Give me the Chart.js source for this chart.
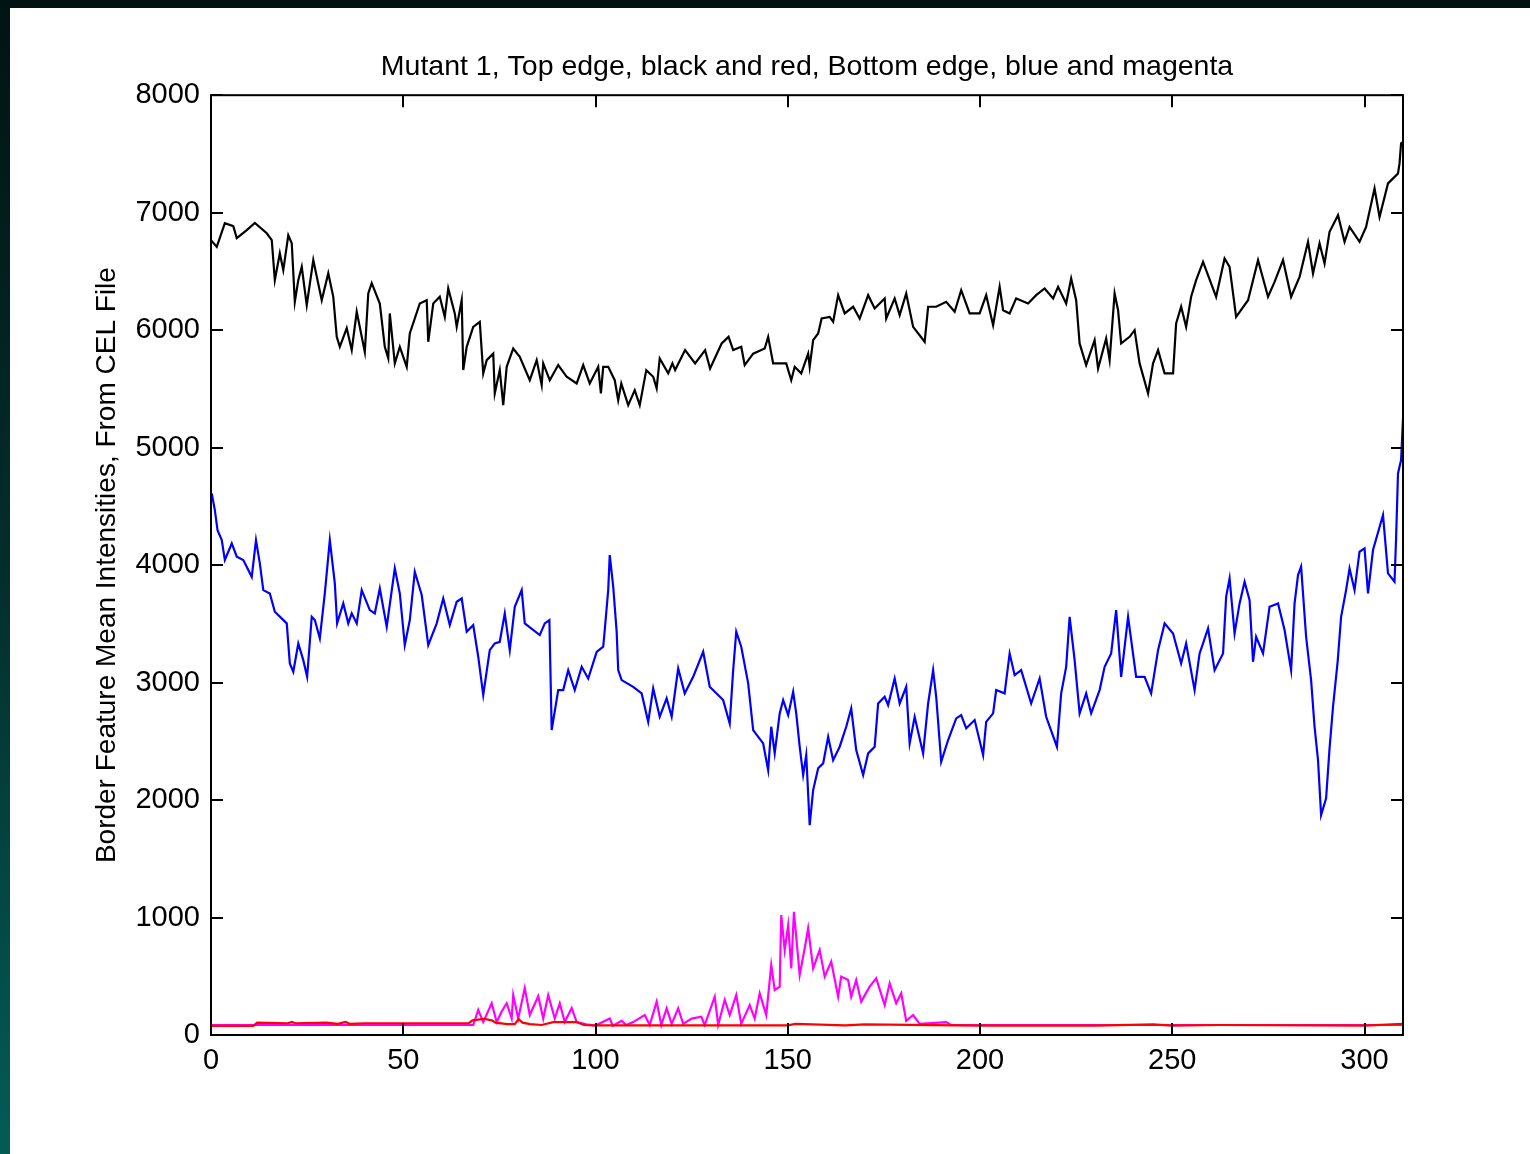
<!DOCTYPE html>
<html>
<head>
<meta charset="utf-8">
<script src="https://cdn.jsdelivr.net/npm/chart.js@4"></script>
<style>
  html, body { margin: 0; padding: 0; }
  body {
    width: 1530px; height: 1154px; overflow: hidden;
    background: linear-gradient(to bottom, #021313 0%, #032e2c 50%, #045c57 100%);
    position: relative;
  }
  #hoja { position: absolute; left: 10px; top: 8px; width: 1520px; height: 1146px; background: #fff; }
  #grafico { position: absolute; left: 0; top: 0; }
</style>
</head>
<body>
<div id="hoja"></div>
<canvas id="grafico" width="1530" height="1154"></canvas>
<script>
// Datos (x = posicion en el borde, y = intensidad media)
const tituloGrafico = 'Mutant 1, Top edge, black and red, Bottom edge, blue and magenta';
const tituloEjeY = 'Border Feature Mean Intensities, From CEL File';
const ticksX = [0, 50, 100, 150, 200, 250, 300];
const ticksY = [0, 1000, 2000, 3000, 4000, 5000, 6000, 7000, 8000];

// Borde superior (negro)
const negroX = [0, 1.5, 3.6, 5.8, 6.7, 9.3, 11.4, 14.5, 15.8, 16.6, 17.9, 18.8, 20.1, 21, 21.8, 22.7, 23.6, 24.9, 26.6, 28.8, 30.5, 31.8, 32.7, 33.5, 35.3, 36.6, 37.9, 40, 40.9, 41.8, 43.9, 45.2, 46.1, 46.5, 47.8, 49.1, 50.9, 51.7, 54.3, 56.1, 56.5, 57.8, 59.5, 60.8, 61.7, 63.4, 63.9, 65.2, 65.6, 66.5, 68.2, 69.9, 70.8, 71.7, 73.4, 73.8, 75.1, 76, 76.9, 78.6, 80.3, 82.9, 84.7, 86, 86.4, 88.1, 90.3, 92.5, 95.1, 96.8, 98.5, 100.7, 101.4, 102, 103.3, 105, 105.9, 106.7, 108.5, 110.2, 111.5, 113.2, 115, 115.9, 116.7, 118.9, 120, 120.7, 123.3, 125.9, 128.5, 129.8, 132.8, 134.6, 135.8, 137.9, 138.8, 141, 144, 144.9, 146.2, 149.6, 150.9, 151.8, 153.5, 155.3, 155.7, 156.6, 157.9, 158.8, 160.9, 161.8, 163.1, 164.8, 167, 168.7, 170.9, 172.6, 175.2, 175.6, 177.8, 179.1, 180.8, 182.6, 185.6, 186.5, 188.6, 191.2, 193.4, 195.1, 197.3, 199.9, 201.6, 203.4, 205.1, 206, 207.7, 209.4, 212.5, 214.6, 216.8, 219, 220.3, 222.4, 223.7, 225, 225.9, 227.6, 229.8, 230.7, 232.8, 233.7, 235, 235.9, 236.7, 238.9, 240.2, 241.5, 243.7, 245, 246.3, 248, 250.2, 251, 252.3, 253.6, 254.9, 256.2, 258, 261.4, 263.6, 264.9, 266.6, 269.7, 272.3, 274.9, 276.6, 278.8, 280.9, 283.1, 285.3, 286.6, 288.3, 289.6, 290.9, 293.1, 294.8, 296.1, 298.7, 300.4, 302.6, 303.9, 306.1, 308.7, 309.1, 309.5, 310];
const negroY = [6766, 6709, 6910, 6885, 6783, 6851, 6913, 6825, 6766, 6426, 6655, 6511, 6808, 6740, 6241, 6426, 6539, 6213, 6596, 6255, 6485, 6284, 5943, 5858, 6017, 5830, 6156, 5815, 6312, 6400, 6227, 5858, 5760, 6142, 5717, 5858, 5688, 5972, 6227, 6255, 5901, 6227, 6284, 6113, 6355, 6142, 6028, 6255, 5660, 5858, 6028, 6071, 5632, 5745, 5800, 5462, 5660, 5362, 5688, 5844, 5773, 5574, 5745, 5532, 5717, 5574, 5703, 5603, 5546, 5703, 5546, 5688, 5461, 5688, 5688, 5574, 5404, 5546, 5362, 5489, 5362, 5660, 5603, 5504, 5759, 5632, 5717, 5660, 5830, 5717, 5830, 5674, 5887, 5943, 5830, 5858, 5703, 5800, 5844, 5943, 5717, 5717, 5574, 5688, 5632, 5800, 5688, 5915, 5972, 6099, 6113, 6071, 6298, 6142, 6199, 6099, 6298, 6185, 6270, 6099, 6270, 6128, 6312, 6028, 5901, 6199, 6199, 6241, 6156, 6340, 6142, 6142, 6298, 6042, 6369, 6170, 6142, 6270, 6227, 6298, 6355, 6270, 6369, 6227, 6440, 6255, 5887, 5702, 5915, 5674, 5929, 5745, 6312, 6170, 5887, 5943, 6000, 5717, 5461, 5717, 5830, 5632, 5632, 6057, 6199, 6028, 6284, 6426, 6582, 6284, 6610, 6539, 6113, 6255, 6596, 6284, 6411, 6596, 6284, 6454, 6752, 6482, 6738, 6567, 6837, 6979, 6752, 6879, 6752, 6879, 7206, 6964, 7249, 7334, 7419, 7589, 7600];

// Borde superior (rojo)
const rojoX = [0, 11, 12, 20, 21, 22, 30, 33, 35, 36, 40, 52, 67, 68, 71, 73, 74, 77, 79, 80, 81, 83, 86, 89, 95, 97, 100, 150, 152, 165, 170, 200, 230, 245, 250, 262, 300, 310];
const rojoY = [78, 78, 105, 100, 112, 100, 105, 95, 112, 95, 100, 100, 100, 125, 138, 125, 105, 92, 92, 135, 105, 92, 85, 110, 110, 85, 82, 82, 95, 82, 90, 80, 80, 90, 80, 85, 80, 95];

// Borde inferior (azul)
const azulX = [0.2, 1, 1.7, 2.8, 3.6, 5.4, 6.7, 8.4, 10.6, 11.7, 12.7, 13.6, 15.3, 16.6, 19.7, 20.5, 21.4, 22.7, 24, 25, 26.2, 27, 28.3, 29.6, 30.9, 32.2, 32.8, 34.4, 35.7, 36.6, 37.9, 39.2, 41.3, 42.6, 43.9, 45.7, 47.8, 49.1, 50.4, 51.7, 53, 54.8, 56.5, 58.7, 60.4, 62.1, 63.9, 65.2, 66.5, 68.2, 69.5, 70.8, 72.5, 73.8, 75.1, 76.4, 77.7, 79, 80.8, 81.6, 85.5, 86.8, 88, 88.6, 90.3, 91.6, 92.9, 94.6, 96.4, 98.1, 100.3, 102, 102.4, 103.3, 103.7, 104.6, 105.5, 105.9, 106.8, 109.8, 112, 113.7, 115, 116.7, 118.5, 119.8, 121.5, 123.2, 125.4, 128, 129.7, 133.2, 134.9, 135.8, 136.6, 137.9, 139.7, 141, 143.6, 144.9, 145.7, 146.6, 147.9, 148.8, 150.1, 151.4, 152.2, 153.1, 154, 154.8, 155.7, 156.6, 157.9, 159.2, 160.5, 161.8, 163.5, 165.2, 166.5, 167.8, 169.6, 170.9, 172.6, 173.5, 175.2, 176.1, 177.8, 179.1, 180.8, 181.7, 183, 185.2, 186.5, 187.8, 188.6, 189.9, 191.7, 193.8, 195.1, 196.4, 198.6, 200.8, 201.6, 203.4, 204.2, 206.4, 207.7, 209, 210.7, 213.3, 215.5, 217.2, 220, 221.1, 222.4, 223.3, 224.6, 225.9, 227.6, 228.9, 231.1, 232.4, 234.1, 235.4, 236.7, 238.5, 240.6, 242.8, 244.5, 246.3, 248, 250.2, 252.3, 253.6, 255.8, 257.1, 258, 259.3, 261, 263.2, 264, 264.9, 266.2, 267.5, 268.8, 270.1, 271, 271.8, 273.6, 275.3, 277.5, 279.2, 280.9, 281.8, 282.7, 283.5, 284.8, 286.1, 287, 287.9, 288.7, 290, 290.9, 291.8, 293, 293.9, 295.2, 296.1, 297.4, 298.7, 300, 300.9, 302.2, 304.8, 306.1, 307.8, 308.2, 308.7, 309.5, 310];
const azulY = [4610, 4468, 4298, 4213, 4043, 4184, 4071, 4043, 3900, 4213, 4015, 3787, 3759, 3603, 3504, 3163, 3092, 3333, 3191, 3049, 3560, 3532, 3376, 3759, 4213, 3844, 3504, 3674, 3504, 3589, 3504, 3787, 3617, 3589, 3801, 3475, 3972, 3759, 3319, 3532, 3943, 3745, 3319, 3504, 3716, 3489, 3688, 3716, 3433, 3489, 3220, 2894, 3276, 3333, 3347, 3589, 3276, 3645, 3787, 3504, 3404, 3504, 3532, 2596, 2936, 2936, 3106, 2936, 3134, 3035, 3262, 3305, 3447, 3787, 4085, 3816, 3433, 3106, 3021, 2964, 2908, 2666, 2950, 2709, 2865, 2709, 3120, 2908, 3049, 3262, 2964, 2851, 2652, 3106, 3433, 3305, 2993, 2596, 2482, 2255, 2624, 2397, 2738, 2851, 2723, 2922, 2738, 2454, 2213, 2383, 1787, 2085, 2270, 2312, 2539, 2340, 2454, 2624, 2780, 2425, 2213, 2397, 2454, 2822, 2879, 2808, 3035, 2822, 2964, 2482, 2709, 2397, 2822, 3106, 2879, 2326, 2511, 2695, 2723, 2610, 2681, 2383, 2666, 2738, 2936, 2908, 3248, 3063, 3106, 2822, 3035, 2709, 2454, 2908, 3134, 3560, 3191, 2738, 2908, 2738, 2936, 3134, 3248, 3617, 3049, 3560, 3049, 3049, 2908, 3276, 3504, 3418, 3163, 3333, 2936, 3248, 3333, 3461, 3106, 3248, 3730, 3887, 3418, 3674, 3858, 3702, 3177, 3390, 3248, 3645, 3674, 3447, 3106, 3674, 3915, 3986, 3390, 3021, 2624, 2340, 1872, 2015, 2440, 2794, 3177, 3560, 3787, 3972, 3787, 4114, 4142, 3759, 4128, 4426, 3929, 3858, 4227, 4780, 4894, 5250];

// Borde inferior (magenta)
const magentaX = [0, 68.2, 69.5, 70.8, 73, 74.3, 75.6, 76.9, 78.2, 78.6, 79.9, 81.6, 82.9, 85.1, 86.4, 87.7, 89.4, 90.7, 92, 93.8, 95.1, 97.6, 100, 103.7, 104.5, 106.8, 108, 109.8, 112.8, 114.1, 115.9, 117.1, 118.5, 119.8, 121.5, 122.8, 125, 127.5, 128.4, 131, 131.9, 133.6, 134.9, 136.6, 137.9, 140.1, 141.4, 142.7, 144.4, 145.7, 146.6, 147.9, 148.3, 149.2, 150.1, 150.9, 151.6, 153.1, 154.4, 155.3, 156.6, 158.3, 159.6, 161.3, 163.1, 163.9, 165.7, 166.5, 167.8, 169.1, 171.3, 173, 175.2, 176.5, 178.2, 179.5, 180.8, 182.6, 184.3, 191.2, 192.5, 310];
const magentaY = [85, 85, 213, 110, 270, 110, 200, 270, 140, 340, 140, 400, 170, 330, 140, 340, 140, 270, 110, 230, 110, 90, 80, 140, 80, 120, 85, 110, 170, 85, 284, 85, 227, 95, 227, 95, 140, 155, 85, 326, 85, 298, 170, 340, 95, 255, 140, 355, 170, 596, 383, 412, 1021, 723, 936, 567, 1049, 511, 738, 908, 567, 723, 497, 624, 326, 497, 468, 326, 468, 284, 412, 482, 255, 440, 270, 355, 120, 170, 95, 110, 85, 85];

// Unir x e y en puntos para Chart.js
function armarPuntos(xs, ys) {
  return xs.map((x, i) => ({ x: x, y: ys[i] }));
}

// Marcas hacia adentro y marco del area (estilo MATLAB)
const marcoPlugin = {
  id: 'marco',
  afterDatasetsDraw(chart) {
    const { ctx, chartArea, scales } = chart;
    const largo = 12;
    ctx.save();
    ctx.strokeStyle = '#000';
    ctx.lineWidth = 2;
    ctx.beginPath();
    ticksX.forEach(v => {
      const px = Math.round(scales.x.getPixelForValue(v));
      ctx.moveTo(px, chartArea.bottom);
      ctx.lineTo(px, chartArea.bottom - largo);
      ctx.moveTo(px, chartArea.top);
      ctx.lineTo(px, chartArea.top + largo);
    });
    ticksY.forEach(v => {
      const py = Math.round(scales.y.getPixelForValue(v));
      ctx.moveTo(chartArea.left, py);
      ctx.lineTo(chartArea.left + largo, py);
      ctx.moveTo(chartArea.right, py);
      ctx.lineTo(chartArea.right - largo, py);
    });
    ctx.stroke();
    ctx.strokeRect(chartArea.left, chartArea.top, chartArea.right - chartArea.left, chartArea.bottom - chartArea.top);
    ctx.restore();
  }
};

const fuente = { family: '"Liberation Sans", Arial, Helvetica, sans-serif', size: 29 };

function serie(xs, ys, color) {
  return {
    data: armarPuntos(xs, ys),
    borderColor: color,
    borderWidth: 2.2,
    pointRadius: 0,
    fill: false,
    tension: 0
  };
}

const ctx = document.getElementById('grafico').getContext('2d');
const grafico = new Chart(ctx, {
  type: 'line',
  data: {
    datasets: [
      serie(negroX, negroY, '#000000'),
      serie(rojoX, rojoY, '#ff0000'),
      serie(azulX, azulY, '#0000ff'),
      serie(magentaX, magentaY, '#ff00ff')
    ]
  },
  options: {
    responsive: false,
    animation: false,
    layout: { padding: { left: 0, right: 127, top: 0, bottom: 0 } },
    plugins: {
      legend: { display: false },
      tooltip: { enabled: false },
      title: {
        display: true,
        text: tituloGrafico,
        color: '#000',
        fullSize: false,
        font: { family: fuente.family, size: 28.5, weight: 'normal', lineHeight: 1.2 },
        padding: { top: 50, bottom: 11 }
      }
    },
    scales: {
      x: {
        type: 'linear',
        min: 0,
        max: 310,
        afterBuildTicks: (eje) => { eje.ticks = ticksX.map(v => ({ value: v })); },
        afterFit: (eje) => { eje.height = 119; },
        grid: { display: false, drawTicks: false },
        border: { display: false },
        ticks: { color: '#000', font: fuente, padding: 9, maxRotation: 0, callback: (v) => String(v) }
      },
      y: {
        type: 'linear',
        min: 0,
        max: 8000,
        afterBuildTicks: (eje) => { eje.ticks = ticksY.map(v => ({ value: v })); },
        afterFit: (eje) => { eje.width = 211; },
        grid: { display: false, drawTicks: false },
        border: { display: false },
        ticks: { color: '#000', font: fuente, padding: 11, callback: (v) => String(v) },
        title: {
          display: true,
          text: tituloEjeY,
          color: '#000',
          font: { family: fuente.family, size: 28, lineHeight: 1.2 },
          padding: { top: 90, bottom: 0 }
        }
      }
    }
  },
  plugins: [marcoPlugin]
});
</script>
</body>
</html>
